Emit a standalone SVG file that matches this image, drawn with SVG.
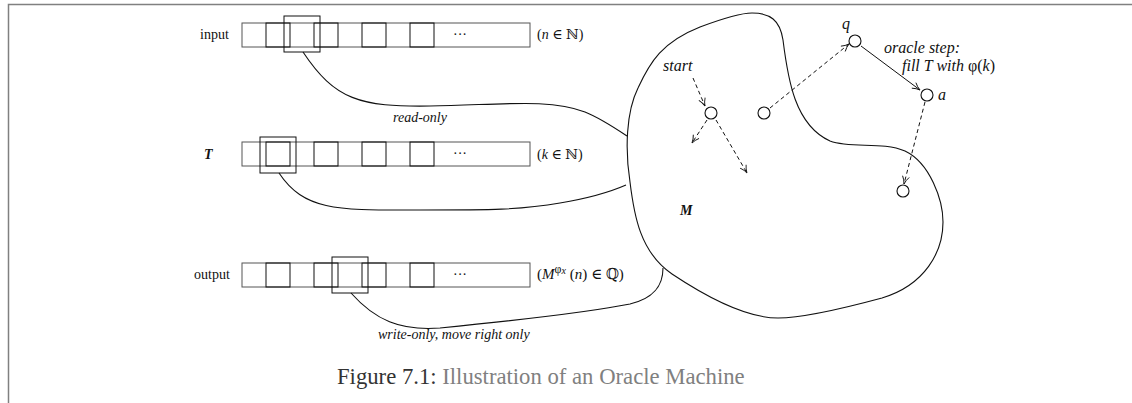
<svg xmlns="http://www.w3.org/2000/svg" width="1132" height="403" viewBox="0 0 1132 403">
<style>
text{font-family:"Liberation Serif","DejaVu Serif",serif;font-size:14px;fill:#111}
.it{font-style:italic}
.lbl{font-size:16px}
.cap{font-size:22.7px;fill:#333}
.capg{fill:#808080}
.tape{fill:none;stroke:#555;stroke-width:1}
.cell{fill:none;stroke:#111;stroke-width:1}
.head{fill:none;stroke:#111;stroke-width:1}
.conn{fill:none;stroke:#111;stroke-width:1.1}
.dash{fill:none;stroke:#111;stroke-width:1;stroke-dasharray:4,3}
.solid{fill:none;stroke:#111;stroke-width:1}
.st{fill:#fff;stroke:#111;stroke-width:1.1}
.frame{fill:none;stroke:#808080;stroke-width:1.5}
</style>
<defs>
<marker id="ah" viewBox="0 0 10 10" refX="9.5" refY="5" markerWidth="9" markerHeight="9" markerUnits="userSpaceOnUse" orient="auto">
<path d="M1,1.2 Q5,4 9.5,5 Q5,6 1,8.8" fill="none" stroke="#111" stroke-width="1"/>
</marker>
</defs>
<rect width="1132" height="403" fill="#fff"/>
<path class="frame" d="M8.5,403 V4.5 H1132"/>

<g id="tape-input">
<text x="200" y="39">input</text>
<rect class="tape" x="242" y="23" width="288" height="24"/>
<rect class="cell" x="266" y="23" width="24" height="24"/>
<rect class="cell" x="314" y="23" width="24" height="24"/>
<rect class="cell" x="362" y="23" width="24" height="24"/>
<rect class="cell" x="410" y="23" width="24" height="24"/>
<text x="460" y="39" text-anchor="middle">···</text>
<rect class="head" x="284" y="16" width="36" height="36"/>
<text x="537" y="39">(<tspan class="it">n</tspan> ∈ ℕ)</text>
</g>

<g id="tape-T">
<text class="it" x="204" y="159" font-weight="bold">T</text>
<rect class="tape" x="242" y="142" width="288" height="24"/>
<rect class="cell" x="266" y="142" width="24" height="24"/>
<rect class="cell" x="314" y="142" width="24" height="24"/>
<rect class="cell" x="362" y="142" width="24" height="24"/>
<rect class="cell" x="410" y="142" width="24" height="24"/>
<text x="460" y="158" text-anchor="middle">···</text>
<rect class="head" x="260" y="137" width="36" height="36"/>
<text x="537" y="159">(<tspan class="it">k</tspan> ∈ ℕ)</text>
</g>

<g id="tape-output">
<text x="194" y="279">output</text>
<rect class="tape" x="242" y="263" width="288" height="24"/>
<rect class="cell" x="266" y="263" width="24" height="24"/>
<rect class="cell" x="314" y="263" width="24" height="24"/>
<rect class="cell" x="362" y="263" width="24" height="24"/>
<rect class="cell" x="410" y="263" width="24" height="24"/>
<text x="460" y="279" text-anchor="middle">···</text>
<rect class="head" x="332" y="257" width="36" height="36"/>
<text x="537" y="279" style="font-size:15px">(<tspan class="it">M</tspan><tspan style="font-size:12px" dy="-6">φ</tspan><tspan class="it" style="font-size:10px" dy="1">x</tspan><tspan dy="5"> (</tspan><tspan class="it">n</tspan>) ∈ ℚ)</text>
</g>

<g id="machine">
<path class="conn" d="M752,13 C770,13 780,20 783,40 C788,80 795,125 830,141 C852,149 882,141 905,151 C930,163 943,200 943,222 C943,252 925,285 882,298 C845,308 805,318 778,318 C745,318 705,296 672,274 C640,252 634,215 630,182 C625,150 626,112 638,88 C650,62 662,42 700,27 C724,18 740,13 752,13 Z"/>
<text class="it" x="680" y="215" font-weight="bold">M</text>
</g>

<g id="connectors">
<path class="conn" d="M303,52 C335,100 360,107 430,106 C500,105 550,98 585,112 C600,118 615,128 627,136"/>
<text class="it" x="420" y="122" text-anchor="middle">read-only</text>
<path class="conn" d="M279,173 C305,212 340,210 420,210 C490,210 520,210 560,203 C590,198 610,192 626,185"/>
<path class="conn" d="M351,293 C375,320 400,331 440,328 C500,322 580,314 630,304 C655,298 663,285 663,268"/>
<text class="it" x="378" y="339">write-only, move right only</text>

<path class="dash" d="M693,78 L705,106" marker-end="url(#ah)"/>
<path class="dash" d="M707,120 L692,143" marker-end="url(#ah)"/>
<path class="dash" d="M716,120 L747,173" marker-end="url(#ah)"/>
<path class="dash" d="M770,108 L849,44" marker-end="url(#ah)"/>
<path class="solid" d="M861,46 L920,90" marker-end="url(#ah)"/>
<path class="dash" d="M925,102 L904,184" marker-end="url(#ah)"/>
</g>

<g id="state-start">
<circle class="st" cx="711" cy="113" r="6"/>
<text class="it lbl" x="663" y="71">start</text>
</g>
<g id="state-2">
<circle class="st" cx="764" cy="113" r="6"/>
</g>
<g id="state-q">
<circle class="st" cx="855" cy="41" r="6"/>
<text class="it lbl" x="842" y="29">q</text>
</g>
<g id="state-a">
<circle class="st" cx="927" cy="95" r="6"/>
<text class="it lbl" x="938" y="100">a</text>
</g>
<g id="state-5">
<circle class="st" cx="903" cy="191" r="6"/>
</g>
<g id="oracle-label">
<text class="it lbl" x="884" y="53">oracle step:</text>
<text class="lbl" x="902" y="71"><tspan class="it">fill T  with </tspan>φ(<tspan class="it">k</tspan>)</text>
</g>

<g id="caption">
<text class="cap" x="337" y="384">Figure 7.1: <tspan class="capg">Illustration of an Oracle Machine</tspan></text>
</g>
</svg>
